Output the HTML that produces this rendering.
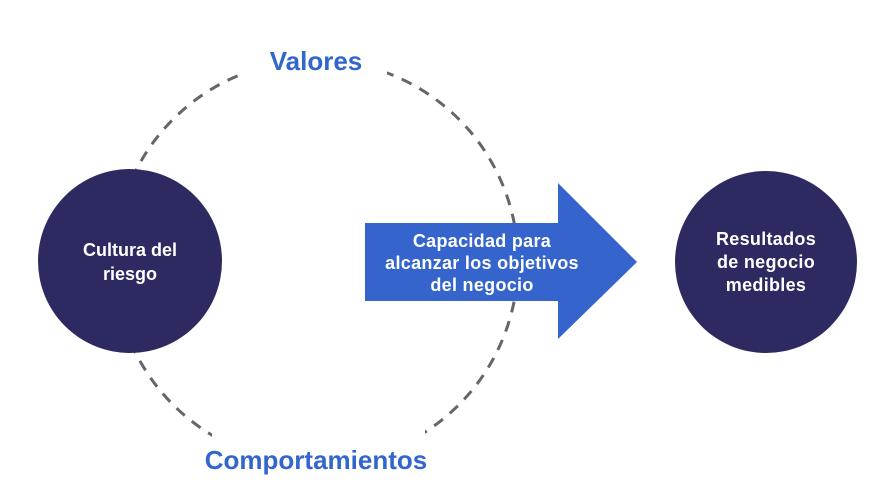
<!DOCTYPE html>
<html><head><meta charset="utf-8"><style>
html,body{margin:0;padding:0;background:#fff;}
svg{display:block;}
text{font-family:"Liberation Sans",Arial,sans-serif;font-weight:bold;}
</style></head><body>
<svg width="889" height="503" viewBox="0 0 889 503" xmlns="http://www.w3.org/2000/svg">
<rect width="889" height="503" fill="#fff"/>
<circle cx="316" cy="262" r="202" fill="none" stroke="#666" stroke-width="3" stroke-dasharray="11 9"/>
<rect x="245" y="40" width="142" height="45" fill="#fff"/>
<rect x="212" y="428" width="213" height="52" fill="#fff"/>
<text x="316" y="70" font-size="26" fill="#3366cc" text-anchor="middle">Valores</text>
<text x="316" y="469" font-size="26" fill="#3366cc" text-anchor="middle">Comportamientos</text>
<circle cx="130" cy="261" r="92" fill="#2c2a60"/>
<text x="130" y="256" font-size="18" fill="#fff" text-anchor="middle">Cultura del</text>
<text x="130" y="280" font-size="18" fill="#fff" text-anchor="middle">riesgo</text>
<polygon points="365,223 558,223 558,183 637,262 558,339 558,301 365,301" fill="#3565cc"/>
<text x="482" y="247" font-size="18" fill="#fff" text-anchor="middle" letter-spacing="0.3">Capacidad para</text>
<text x="482" y="269" font-size="18" fill="#fff" text-anchor="middle" letter-spacing="0.3">alcanzar los objetivos</text>
<text x="482" y="291" font-size="18" fill="#fff" text-anchor="middle" letter-spacing="0.3">del negocio</text>
<circle cx="766" cy="262" r="91" fill="#2c2a60"/>
<text x="766" y="245" font-size="18" fill="#fff" text-anchor="middle" letter-spacing="0.3">Resultados</text>
<text x="766" y="268" font-size="18" fill="#fff" text-anchor="middle" letter-spacing="0.3">de negocio</text>
<text x="766" y="291" font-size="18" fill="#fff" text-anchor="middle" letter-spacing="0.3">medibles</text>
</svg>
</body></html>
